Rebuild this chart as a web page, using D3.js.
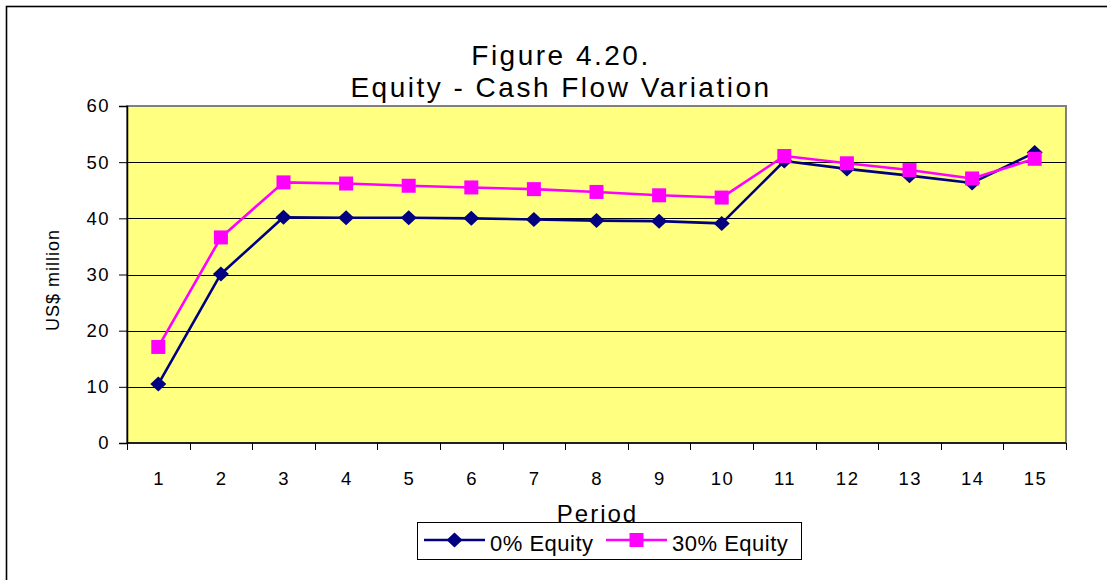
<!DOCTYPE html>
<html>
<head>
<meta charset="utf-8">
<script src="https://cdn.jsdelivr.net/npm/d3@7/dist/d3.min.js"></script>
<style>
  html, body { margin: 0; padding: 0; background: #fff; }
  svg { display: block; font-family: Arial, "Liberation Sans", sans-serif; }
</style>
</head>
<body>
<svg id="chart" width="1107" height="580"></svg>
<script>
// Cash flow per period (US$ million) under two equity financing shares
const periods = ["1","2","3","4","5","6","7","8","9","10","11","12","13","14","15"];
const equity0 = [10.5, 30.1, 40.2, 40.1, 40.1, 40.0, 39.8, 39.6, 39.5, 39.1, 50.2, 48.8, 47.6, 46.3, 51.7];
const equity30 = [17.1, 36.6, 46.4, 46.2, 45.8, 45.5, 45.2, 44.7, 44.1, 43.7, 51.1, 49.8, 48.6, 47.1, 50.6];
const yTicks = [0, 10, 20, 30, 40, 50, 60];
const titleLines = ["Figure 4.20.", "Equity - Cash Flow Variation"];

const series = [
  { name: "0% Equity", values: equity0, color: "#000080", marker: "diamond" },
  { name: "30% Equity", values: equity30, color: "#FF00FF", marker: "square" }
];

const svg = d3.select("#chart");
const plot = { left: 127, right: 1066, top: 106, bottom: 443 };

// outer chart frame
svg.append("rect")
  .attr("x", 6.5).attr("y", 6.5)
  .attr("width", 1200).attr("height", 1000)
  .attr("fill", "#fff").attr("stroke", "#000").attr("stroke-width", 1.6);

const x = d3.scaleBand().domain(periods).range([plot.left, plot.right]).padding(0);
const y = d3.scaleLinear().domain([0, 60]).range([plot.bottom, plot.top]);

// plot area background
svg.append("rect")
  .attr("x", plot.left).attr("y", plot.top)
  .attr("width", plot.right - plot.left).attr("height", plot.bottom - plot.top)
  .attr("fill", "#FFFF80").attr("stroke", "#808080").attr("stroke-width", 2);

// horizontal gridlines
svg.append("g").selectAll("line")
  .data(yTicks.filter(t => t > 0 && t < 60))
  .join("line")
  .attr("x1", plot.left).attr("x2", plot.right)
  .attr("y1", d => Math.round(y(d)) + 0.5).attr("y2", d => Math.round(y(d)) + 0.5)
  .attr("stroke", "#000").attr("stroke-width", 1);

// y axis
const yAxis = svg.append("g")
  .attr("transform", `translate(${plot.left},0)`)
  .call(d3.axisLeft(y).tickValues(yTicks).tickSizeOuter(0).tickSize(8).tickPadding(9));
yAxis.select(".domain").attr("stroke", "#000").attr("stroke-width", 1.5);
yAxis.selectAll(".tick line").attr("stroke", "#000");
yAxis.selectAll("text")
  .attr("font-size", 18.5).attr("fill", "#000")
  .attr("font-family", "Arial, 'Liberation Sans', sans-serif")
  .style("letter-spacing", "1.5px");

// x axis: ticks on category boundaries, labels at category centres
const xAxisG = svg.append("g").attr("transform", `translate(0,${plot.bottom})`);
xAxisG.append("line")
  .attr("x1", plot.left).attr("x2", plot.right)
  .attr("y1", 0).attr("y2", 0)
  .attr("stroke", "#000").attr("stroke-width", 1.5);
const boundaries = periods.map(p => x(p)).concat([x(periods[periods.length - 1]) + x.bandwidth()]);
xAxisG.selectAll("line.tick")
  .data(boundaries)
  .join("line")
  .attr("class", "tick")
  .attr("x1", d => Math.round(d) + 0.5).attr("x2", d => Math.round(d) + 0.5)
  .attr("y1", 0).attr("y2", 7)
  .attr("stroke", "#000");
xAxisG.selectAll("text")
  .data(periods)
  .join("text")
  .attr("x", d => x(d) + x.bandwidth() / 2 + 0.75)
  .attr("y", 42)
  .attr("text-anchor", "middle")
  .attr("font-size", 18.5)
  .style("letter-spacing", "1.5px")
  .text(d => d);

// axis titles
svg.append("text")
  .attr("x", (plot.left + plot.right) / 2 + 1)
  .attr("y", 522)
  .attr("text-anchor", "middle")
  .attr("font-size", 24)
  .style("letter-spacing", "2px")
  .text("Period");

svg.append("text")
  .attr("transform", "translate(59,280) rotate(-90)")
  .attr("text-anchor", "middle")
  .attr("font-size", 18)
  .style("letter-spacing", "1px")
  .text("US$ million");

// chart title
svg.append("g").selectAll("text")
  .data(titleLines)
  .join("text")
  .attr("x", 561)
  .attr("y", (d, i) => 65 + i * 31.5)
  .attr("text-anchor", "middle")
  .attr("font-size", 28)
  .style("letter-spacing", "2.5px")
  .text(d => d);

// markers
function markerPath(kind) {
  if (kind === "square") return d3.symbol(d3.symbolSquare, 196)();
  return "M0,-7.5L8,0L0,7.5L-8,0Z";
}

const line = d3.line()
  .x((d, i) => x(periods[i]) + x.bandwidth() / 2)
  .y(d => y(d));

series.forEach(s => {
  const g = svg.append("g");
  g.append("path")
    .attr("d", line(s.values))
    .attr("fill", "none")
    .attr("stroke", s.color)
    .attr("stroke-width", 2.6)
    .attr("stroke-linejoin", "round");
  g.selectAll("path.mk")
    .data(s.values)
    .join("path")
    .attr("class", "mk")
    .attr("transform", (d, i) => `translate(${x(periods[i]) + x.bandwidth() / 2},${y(d)})`)
    .attr("d", markerPath(s.marker))
    .attr("fill", s.color);
});

// legend
const legend = svg.append("g");
legend.append("rect")
  .attr("x", 417.5).attr("y", 522.5)
  .attr("width", 384).attr("height", 37)
  .attr("fill", "#fff").attr("stroke", "#000").attr("stroke-width", 1);
const legendItems = [
  { s: series[0], x0: 424, tx: 490 },
  { s: series[1], x0: 606, tx: 672 }
];
legendItems.forEach(item => {
  const g = legend.append("g");
  g.append("line")
    .attr("x1", item.x0).attr("x2", item.x0 + 61)
    .attr("y1", 540).attr("y2", 540)
    .attr("stroke", item.s.color).attr("stroke-width", 2.6);
  g.append("path")
    .attr("transform", `translate(${item.x0 + 30.5},540)`)
    .attr("d", markerPath(item.s.marker))
    .attr("fill", item.s.color);
  g.append("text")
    .attr("x", item.tx).attr("y", 551)
    .attr("font-size", 22)
    .style("letter-spacing", "0.5px")
    .text(item.s.name);
});
</script>
</body>
</html>
